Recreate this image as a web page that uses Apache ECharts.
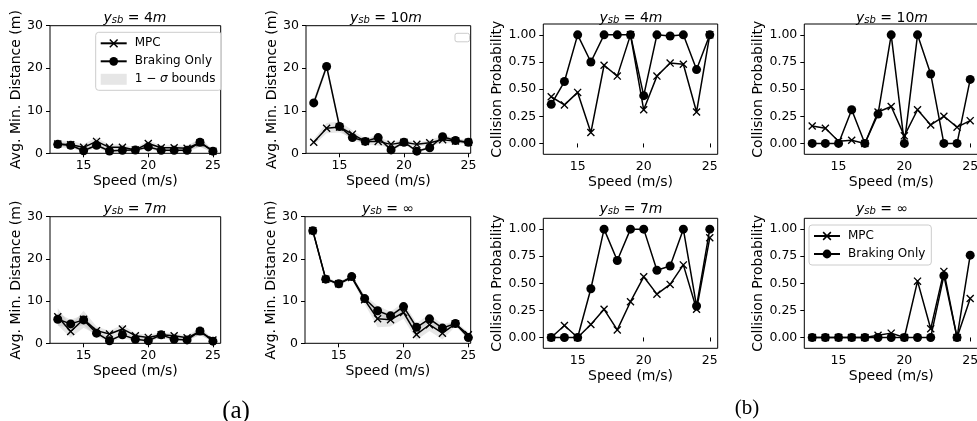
<!DOCTYPE html>
<html>
<head>
<meta charset="utf-8">
<script src="https://cdn.jsdelivr.net/npm/echarts@6/dist/echarts.min.js"></script>
<style>
  html, body { margin: 0; padding: 0; background: #fff; }
  #chart { width: 977px; height: 421px; }
</style>
</head>
<body>
<div id="chart"></div>
<script>
// speeds on x axis
const speeds = [13, 14, 15, 16, 17, 18, 19, 20, 21, 22, 23, 24, 25];
const xTicks = [15, 20, 25];
const distTicks = [0, 10, 20, 30];
const probTicks = [0, 0.25, 0.5, 0.75, 1];

// avg. min. distance (m), mean and std
const mpcDist4 = [2.2, 2.0, 1.4, 2.8, 1.4, 1.4, 0.8, 2.3, 1.3, 1.3, 1.2, 2.5, 0.5];
const brkDist4 = [2.1, 1.9, 0.6, 1.9, 0.55, 0.7, 0.75, 1.5, 0.7, 0.7, 0.7, 2.6, 0.5];
const mpcSd4 = [0.8, 0.9, 0.8, 0.9, 0.6, 0.7, 0.5, 0.7, 0.6, 0.6, 0.6, 0.9, 0.4];
const brkSd4 = [0.5, 0.5, 0.4, 0.6, 0.4, 0.5, 0.4, 0.5, 0.4, 0.4, 0.4, 1.1, 0.3];

const mpcDist10 = [2.6, 5.9, 6.2, 4.5, 2.8, 2.8, 2.1, 2.6, 2.1, 2.5, 3.2, 2.9, 2.6];
const brkDist10 = [11.85, 20.4, 6.3, 3.7, 2.8, 3.7, 0.8, 2.6, 0.5, 1.3, 3.9, 3.0, 2.6];
const mpcSd10 = [0.7, 1.2, 1.3, 0.9, 0.6, 1.0, 0.6, 0.6, 0.5, 0.6, 0.9, 0.5, 0.5];
const brkSd10 = [1.0, 0.8, 0.8, 0.7, 0.5, 0.8, 0.4, 0.5, 0.3, 0.4, 0.6, 0.5, 0.4];

const mpcDist7 = [6.3, 2.8, 5.7, 3.0, 2.2, 3.4, 1.8, 1.4, 2.0, 1.8, 1.3, 2.8, 0.8];
const brkDist7 = [5.7, 4.6, 5.55, 2.4, 0.6, 2.0, 0.95, 0.6, 2.0, 0.95, 0.8, 2.9, 0.5];
const mpcSd7 = [2.0, 1.5, 2.0, 1.0, 0.8, 1.0, 0.6, 0.6, 0.6, 0.6, 0.5, 0.9, 0.4];
const brkSd7 = [1.5, 1.0, 1.2, 0.8, 0.4, 0.8, 0.4, 0.4, 0.6, 0.4, 0.4, 0.8, 0.3];

const mpcDistInf = [26.7, 15.2, 14.1, 15.6, 10.3, 5.8, 5.6, 7.3, 2.1, 4.4, 2.4, 4.6, 2.0];
const brkDistInf = [26.7, 15.2, 14.1, 15.8, 10.6, 7.7, 6.5, 8.7, 3.8, 5.8, 3.6, 4.7, 1.35];
const mpcSdInf = [0.4, 0.4, 0.4, 0.4, 1.0, 2.0, 1.6, 1.5, 1.3, 1.5, 1.5, 0.6, 0.6];
const brkSdInf = [0.4, 0.4, 0.4, 0.4, 0.8, 1.2, 1.0, 1.0, 1.0, 1.0, 0.9, 0.5, 0.5];

// collision probability
const mpcProb4 = [0.43, 0.355, 0.47, 0.10, 0.72, 0.62, 1.0, 0.31, 0.62, 0.74, 0.73, 0.29, 1.0];
const brkProb4 = [0.36, 0.57, 1.0, 0.75, 1.0, 1.0, 1.0, 0.44, 1.0, 0.99, 1.0, 0.68, 1.0];
const mpcProb10 = [0.16, 0.14, 0.02, 0.03, 0.0, 0.29, 0.34, 0.07, 0.31, 0.17, 0.25, 0.15, 0.21];
const brkProb10 = [0, 0, 0, 0.31, 0, 0.27, 1.0, 0, 1.0, 0.64, 0, 0, 0.59];
const mpcProb7 = [0, 0.11, 0, 0.12, 0.26, 0.07, 0.33, 0.56, 0.40, 0.49, 0.67, 0.26, 0.92];
const brkProb7 = [0, 0, 0, 0.45, 1.0, 0.71, 1.0, 1.0, 0.62, 0.66, 1.0, 0.29, 1.0];
const mpcProbInf = [0, 0, 0, 0, 0, 0.02, 0.04, 0, 0.52, 0.08, 0.61, 0, 0.36];
const brkProbInf = [0, 0, 0, 0, 0, 0, 0, 0, 0, 0, 0.57, 0, 0.76];

const FONT = 'DejaVu Sans';
const SIGMA = '1 − σ bounds';
const crossPath = 'path://M0,1.2L1.2,0L10,8.8L8.8,10Z M8.8,0L10,1.2L1.2,10L0,8.8Z';

// one entry per subplot (row by row)
const panels = [
  { l: 50, t: 25.7, w: 170.7, h: 127.6, xmax: 25.6, kind: 'dist', tt: ' = 4', unit: 'm', tx: 135, ty: 16,
    mpc: mpcDist4, brk: brkDist4, mpcSd: mpcSd4, brkSd: brkSd4 },
  { l: 306, t: 25.7, w: 164.7, h: 127.6, xmax: 25.18, kind: 'dist', tt: ' = 10', unit: 'm', tx: 386, ty: 16,
    mpc: mpcDist10, brk: brkDist10, mpcSd: mpcSd10, brkSd: brkSd10 },
  { l: 543.3, t: 24, w: 174.4, h: 130.3, xmax: 25.6, kind: 'prob', tt: ' = 4', unit: 'm', tx: 631, ty: 16,
    mpc: mpcProb4, brk: brkProb4 },
  { l: 804.3, t: 24, w: 173.8, h: 130.3, xmax: 25.6, kind: 'prob', tt: ' = 10', unit: 'm', tx: 892, ty: 16,
    mpc: mpcProb10, brk: brkProb10 },
  { l: 50, t: 216.7, w: 170.7, h: 126.6, xmax: 25.6, kind: 'dist', tt: ' = 7', unit: 'm', tx: 135, ty: 207,
    mpc: mpcDist7, brk: brkDist7, mpcSd: mpcSd7, brkSd: brkSd7 },
  { l: 305, t: 216.7, w: 165.7, h: 126.6, xmax: 25.18, kind: 'dist', tt: ' = ∞', unit: '', tx: 388, ty: 207,
    mpc: mpcDistInf, brk: brkDistInf, mpcSd: mpcSdInf, brkSd: brkSdInf },
  { l: 543.3, t: 218.3, w: 174.4, h: 130, xmax: 25.6, kind: 'prob', tt: ' = 7', unit: 'm', tx: 631, ty: 207,
    mpc: mpcProb7, brk: brkProb7 },
  { l: 804.3, t: 218.3, w: 173.8, h: 130, xmax: 25.6, kind: 'prob', tt: ' = ∞', unit: '', tx: 882, ty: 207,
    mpc: mpcProbInf, brk: brkProbInf }
];

const grids = [], xAxes = [], yAxes = [], series = [], titles = [];

function bandSeries(gi, mean, sd) {
  const rows = speeds.map((s, i) => [s, mean[i] - sd[i], mean[i] + sd[i]]);
  return {
    type: 'custom', name: SIGMA, xAxisIndex: gi, yAxisIndex: gi, z: 1, silent: true, clip: true,
    data: rows, encode: { x: 0, y: [1, 2] },
    renderItem: function (params, api) {
      if (params.dataIndex !== 0) return null;
      const pts = [];
      rows.forEach(r => pts.push(api.coord([r[0], r[2]])));
      for (let i = rows.length - 1; i >= 0; i--) pts.push(api.coord([rows[i][0], rows[i][1]]));
      return { type: 'polygon', shape: { points: pts }, style: { fill: 'rgba(128,128,128,0.2)' } };
    }
  };
}

panels.forEach((p, gi) => {
  const isDist = p.kind === 'dist';
  grids.push({ left: p.l, top: p.t, width: p.w, height: p.h, show: true, borderColor: '#000', borderWidth: 1,
    backgroundColor: 'transparent', containLabel: false, outerBoundsMode: 'none' });
  xAxes.push({
    type: 'value', gridIndex: gi, min: 12.4, max: p.xmax,
    name: 'Speed (m/s)', nameLocation: 'middle', nameGap: 21,
    nameTextStyle: { fontFamily: FONT, fontSize: 14, color: '#000' },
    axisLine: { show: false },
    axisTick: { show: true, inside: false, length: 4, customValues: xTicks, lineStyle: { color: '#000' } },
    axisLabel: { customValues: xTicks, margin: 6, fontFamily: FONT, fontSize: 12.5, color: '#000' },
    splitLine: { show: false }
  });
  yAxes.push({
    type: 'value', gridIndex: gi,
    min: isDist ? 0 : -0.1, max: isDist ? 30 : 1.1,
    name: isDist ? 'Avg. Min. Distance (m)' : 'Collision Probability',
    nameLocation: 'middle', nameGap: isDist ? 27 : 39, nameRotate: 90,
    nameTextStyle: { fontFamily: FONT, fontSize: 14, color: '#000' },
    axisLine: { show: false },
    axisTick: { show: true, inside: false, length: 4, customValues: isDist ? distTicks : probTicks, lineStyle: { color: '#000' } },
    axisLabel: { customValues: isDist ? distTicks : probTicks, margin: 7, fontFamily: FONT, fontSize: 12.5, color: '#000',
      formatter: v => isDist ? String(v) : v.toFixed(2) },
    splitLine: { show: false }
  });
  if (isDist) {
    series.push(bandSeries(gi, p.mpc, p.mpcSd));
    series.push(bandSeries(gi, p.brk, p.brkSd));
  }
  series.push({
    type: 'line', name: 'MPC', xAxisIndex: gi, yAxisIndex: gi, z: 3,
    data: speeds.map((s, i) => [s, p.mpc[i]]),
    symbol: crossPath, symbolSize: 8, showAllSymbol: true,
    lineStyle: { color: '#000', width: 1.5 }, itemStyle: { color: '#000' },
    emphasis: { disabled: true }, animation: false
  });
  series.push({
    type: 'line', name: 'Braking Only', xAxisIndex: gi, yAxisIndex: gi, z: 4,
    data: speeds.map((s, i) => [s, p.brk[i]]),
    symbol: 'circle', symbolSize: 9, showAllSymbol: true,
    lineStyle: { color: '#000', width: 1.5 }, itemStyle: { color: '#000' },
    emphasis: { disabled: true }, animation: false
  });
  titles.push({
    text: '{i|y}{s|sb}{n|' + p.tt + '}' + (p.unit ? '{i|' + p.unit + '}' : ''),
    left: p.tx, top: p.ty, textAlign: 'center', textVerticalAlign: 'middle', padding: 0,
    textStyle: {
      fontWeight: 'normal',
      rich: {
        i: { fontFamily: FONT, fontStyle: 'italic', fontWeight: 'normal', fontSize: 14, color: '#000', lineHeight: 18, verticalAlign: 'bottom' },
        n: { fontFamily: FONT, fontWeight: 'normal', fontSize: 14, color: '#000', lineHeight: 18, verticalAlign: 'bottom' },
        s: { fontFamily: FONT, fontStyle: 'italic', fontWeight: 'normal', fontSize: 10, color: '#000', lineHeight: 9, verticalAlign: 'bottom' }
      }
    }
  });
});

const legendText = {
  fontFamily: FONT, fontSize: 12, color: '#000', padding: [0, 0, 0, 3],
  rich: { i: { fontFamily: FONT, fontStyle: 'italic', fontSize: 12, color: '#000' } }
};
const legendBox = {
  orient: 'vertical', selectedMode: false, itemWidth: 26, itemHeight: 11, itemGap: 6,
  borderColor: '#cccccc', borderWidth: 1, borderRadius: 3, backgroundColor: 'rgba(255,255,255,0.8)',
  padding: [5, 6, 5, 4], textStyle: legendText
};

const option = {
  animation: false,
  backgroundColor: '#fff',
  title: titles,
  grid: grids,
  xAxis: xAxes,
  yAxis: yAxes,
  legend: [
    Object.assign({}, legendBox, {
      left: 95.7, top: 32.3,
      data: [
        { name: 'MPC' },
        { name: 'Braking Only' },
        { name: SIGMA, icon: 'rect', itemStyle: { color: '#e6e6e6' } }
      ],
      formatter: n => n === SIGMA ? '1 − {i|σ} bounds' : n
    }),
    Object.assign({}, legendBox, {
      left: 809, top: 225,
      data: [{ name: 'MPC' }, { name: 'Braking Only' }]
    })
  ],
  graphic: [
    { type: 'rect', shape: { x: 455, y: 33.3, width: 14.5, height: 8.5, r: 2 },
      style: { fill: '#fff', stroke: '#cccccc', lineWidth: 1 }, z: 100 },
    { type: 'text', x: 236, y: 411, style: { text: '(a)', font: '25px "Liberation Serif"', fill: '#000',
      textAlign: 'center', textVerticalAlign: 'middle' } },
    { type: 'text', x: 747, y: 408.5, style: { text: '(b)', font: '21px "Liberation Serif"', fill: '#000',
      textAlign: 'center', textVerticalAlign: 'middle' } }
  ],
  series: series
};

const chart = echarts.init(document.getElementById('chart'), null, { renderer: 'canvas' });
chart.setOption(option);
window.addEventListener('resize', function () { chart.resize(); });
</script>
</body>
</html>
